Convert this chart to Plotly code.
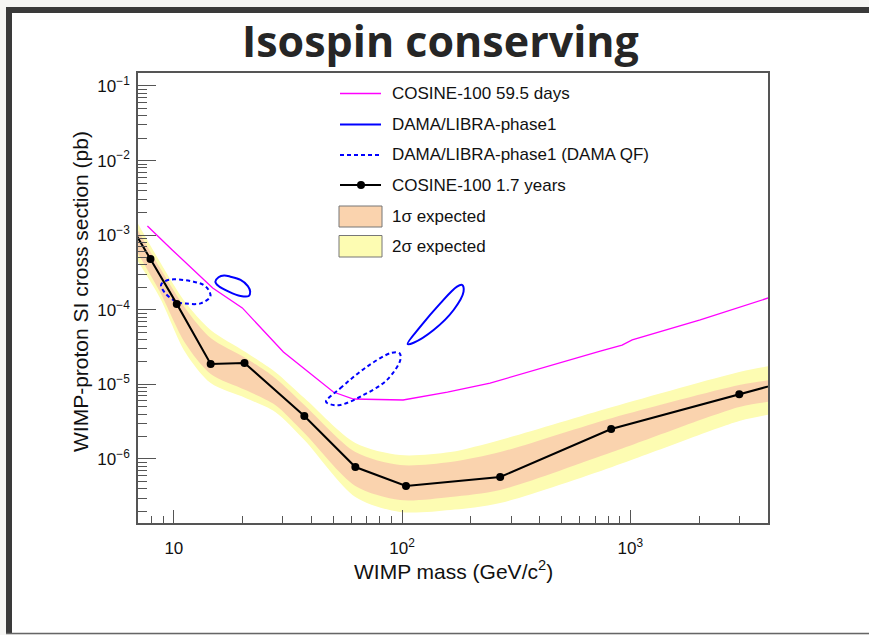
import plotly.graph_objects as go

# ---------------- data ----------------
# COSINE-100 1.7 years (observed limit)
cos17_mass = [6.0, 7.9, 10.3, 14.5, 20.4, 37.3, 62.4, 104, 269, 824, 3000, 10000]
cos17_xs = [2.0e-3, 4.8e-4, 1.2e-4, 1.88e-5, 1.94e-5, 3.77e-6, 7.8e-7, 4.35e-7, 5.74e-7, 2.52e-6, 7.4e-6, 2.0e-5]

# COSINE-100 59.5 days
cos59_mass = [7.66, 9.84, 14.8, 19.95, 30.2, 50.0, 61.2, 101, 158, 243, 738, 920, 1019, 2023, 4018]
cos59_xs = [1.33e-3, 6.34e-4, 1.96e-4, 1.06e-4, 2.72e-5, 7.9e-6, 6.37e-6, 6.18e-6, 7.9e-6, 1.04e-5,
            2.8e-5, 3.37e-5, 3.94e-5, 7.3e-5, 1.44e-4]

# expected sensitivity bands
band_mass = [6.0, 6.9, 8.7, 11.2, 14.5, 20.6, 27.8, 37.3, 62.4, 98, 163, 269, 833, 3000, 4100, 6000]
s2_hi = [3.2e-3, 1.50e-3, 4.37e-4, 1.27e-4, 5.36e-5, 2.72e-5, 1.47e-5, 6.58e-6, 1.64e-6, 1.13e-6, 1.24e-6, 1.80e-6, 4.98e-6, 1.47e-5, 1.77e-5, 2.3e-5]
s1_hi = [2.5e-3, 1.21e-3, 3.63e-4, 1.06e-4, 4.19e-5, 2.26e-5, 1.22e-5, 5.30e-6, 1.24e-6, 8.31e-7, 9.12e-7, 1.24e-6, 3.55e-6, 9.82e-6, 1.15e-5, 1.45e-5]
s1_lo = [1.26e-3, 5.96e-4, 1.73e-4, 3.59e-5, 1.38e-5, 8.41e-6, 5.30e-6, 2.23e-6, 4.35e-7, 2.82e-7, 3.10e-7, 3.84e-7, 1.24e-6, 4.98e-6, 5.9e-6, 7.4e-6]
s2_lo = [9.5e-4, 4.65e-4, 1.44e-4, 2.72e-5, 1.04e-5, 6.58e-6, 4.27e-6, 1.80e-6, 3.10e-7, 1.95e-7, 2.07e-7, 2.57e-7, 7.82e-7, 3.22e-6, 3.98e-6, 5.2e-6]

# DAMA/LIBRA-phase1 contours
dama_a_mass = [15.2, 15.7, 16.6, 17.7, 19.6, 21.1, 21.6, 21.3, 19.6, 17.4, 15.7, 15.2]
dama_a_xs = [2.38e-4, 2.73e-4, 2.88e-4, 2.78e-4, 2.51e-4, 2.08e-4, 1.75e-4, 1.53e-4, 1.53e-4, 1.75e-4, 2.08e-4, 2.38e-4]
dama_b_mass = [105.7, 120.2, 147.0, 174.0, 183.0, 185.9, 168.1, 137.4, 112.3, 105.7]
dama_b_xs = [3.48e-5, 5.93e-5, 1.22e-4, 2.04e-4, 2.15e-4, 1.75e-4, 9.94e-5, 5.36e-5, 3.62e-5, 3.48e-5]
# DAMA/LIBRA-phase1 (DAMA QF)
damaqf_a_mass = [8.79, 9.18, 9.98, 12.2, 13.5, 14.2, 14.45, 13.1, 11.3, 10.3, 9.18, 8.79]
damaqf_a_xs = [2.15e-4, 2.43e-4, 2.56e-4, 2.38e-4, 2.15e-4, 1.84e-4, 1.50e-4, 1.22e-4, 1.21e-4, 1.28e-4, 1.66e-4, 2.15e-4]
damaqf_b_mass = [46.4, 53.6, 70.2, 90.3, 97.5, 98.2, 85.9, 67.8, 53.6, 48.5, 46.4]
damaqf_b_xs = [5.86e-6, 8.87e-6, 1.73e-5, 2.66e-5, 2.61e-5, 2.12e-5, 1.15e-5, 7.21e-6, 5.30e-6, 5.41e-6, 5.86e-6]

x_tickvals = [10, 100, 1000]
x_ticktext = ["10", "10<sup>2</sup>", "10<sup>3</sup>"]
y_tickvals = [1e-6, 1e-5, 1e-4, 1e-3, 1e-2, 1e-1]
y_ticktext = ["10<sup>\u22126</sup>", "10<sup>\u22125</sup>", "10<sup>\u22124</sup>",
              "10<sup>\u22123</sup>", "10<sup>\u22122</sup>", "10<sup>\u22121</sup>"]

legend_labels = ["COSINE-100 59.5 days", "DAMA/LIBRA-phase1", "DAMA/LIBRA-phase1 (DAMA QF)",
                 "COSINE-100 1.7 years", "1\u03c3 expected", "2\u03c3 expected"]

title_text = "Isospin conserving"
xtitle = "WIMP mass (GeV/c<sup>2</sup>)"
ytitle = "WIMP-proton SI cross section (pb)"

# ---------------- styles ----------------
W, H = 869, 635
L, R, T, B = 138, 768, 73, 523
C_MAG = "#ff00ff"
C_BLUE = "#0000ff"
C_1S = "#fad3ae"
C_2S = "#fdfcb2"
FONT = "Liberation Sans, Arial, sans-serif"

# minor tick positions (2..9 per decade)
x_minor = [k * 10 ** d for d in range(0, 4) for k in range(2, 10)]
y_minor = [k * 10.0 ** d for d in range(-7, 0) for k in range(2, 10)]


def px(x):
    return (x - L) / (R - L)


def py(y):
    return (B - y) / (B - T)


fig = go.Figure()

# bands
fig.add_trace(go.Scatter(x=band_mass + band_mass[::-1], y=s2_hi + s2_lo[::-1], fill="toself",
                         fillcolor=C_2S, line=dict(width=0, shape="spline", smoothing=0.8),
                         mode="lines", hoverinfo="skip", showlegend=False))
fig.add_trace(go.Scatter(x=band_mass + band_mass[::-1], y=s1_hi + s1_lo[::-1], fill="toself",
                         fillcolor=C_1S, line=dict(width=0, shape="spline", smoothing=0.8),
                         mode="lines", hoverinfo="skip", showlegend=False))

# COSINE 59.5 days
fig.add_trace(go.Scatter(x=cos59_mass, y=cos59_xs, mode="lines",
                         line=dict(color=C_MAG, width=1.3), showlegend=False))

# DAMA contours
for mx, sy, dash in [(dama_a_mass, dama_a_xs, "solid"), (dama_b_mass, dama_b_xs, "solid"),
                     (damaqf_a_mass, damaqf_a_xs, "4px,3px"), (damaqf_b_mass, damaqf_b_xs, "4px,3px")]:
    fig.add_trace(go.Scatter(x=mx, y=sy, mode="lines",
                             line=dict(color=C_BLUE, width=2, dash=dash, shape="spline", smoothing=1.0),
                             showlegend=False))

# COSINE 1.7 years
fig.add_trace(go.Scatter(x=cos17_mass, y=cos17_xs, mode="lines+markers",
                         line=dict(color="black", width=2),
                         marker=dict(color="black", size=8), showlegend=False))

shapes = []
annotations = []

# slide frame
shapes.append(dict(type="rect", xref="paper", yref="paper", x0=px(6), x1=px(880), y0=py(634), y1=py(7),
                   fillcolor="white", line=dict(width=0), layer="below"))
shapes.append(dict(type="rect", xref="paper", yref="paper", x0=px(6), x1=px(12), y0=py(634), y1=py(7),
                   fillcolor="#3a3a3a", line=dict(width=0), layer="below"))
shapes.append(dict(type="rect", xref="paper", yref="paper", x0=px(6), x1=px(880), y0=py(13), y1=py(7),
                   fillcolor="#3a3a3a", line=dict(width=0), layer="below"))
shapes.append(dict(type="line", xref="paper", yref="paper", x0=px(6), x1=px(880), y0=py(633.5), y1=py(633.5),
                   line=dict(color="#666", width=1.5), layer="below"))

# manual legend
lx0, lx1, tx = 340, 381, 390
rows = [93.5, 124.5, 155, 185, 216.5, 246.5]
shapes.append(dict(type="line", xref="paper", yref="paper", x0=px(lx0), x1=px(lx1), y0=py(rows[0]), y1=py(rows[0]),
                   line=dict(color=C_MAG, width=1.3)))
shapes.append(dict(type="line", xref="paper", yref="paper", x0=px(lx0), x1=px(lx1), y0=py(rows[1]), y1=py(rows[1]),
                   line=dict(color=C_BLUE, width=2)))
shapes.append(dict(type="line", xref="paper", yref="paper", x0=px(lx0), x1=px(lx1), y0=py(rows[2]), y1=py(rows[2]),
                   line=dict(color=C_BLUE, width=2, dash="4px,3px")))
shapes.append(dict(type="line", xref="paper", yref="paper", x0=px(lx0), x1=px(lx1), y0=py(rows[3]), y1=py(rows[3]),
                   line=dict(color="black", width=2)))
shapes.append(dict(type="circle", xref="paper", yref="paper", x0=px(357), x1=px(365), y0=py(rows[3] + 4),
                   y1=py(rows[3] - 4), fillcolor="black", line=dict(width=0)))
shapes.append(dict(type="rect", xref="paper", yref="paper", x0=px(339), x1=px(382), y0=py(227), y1=py(206),
                   fillcolor=C_1S, line=dict(color="#777", width=1)))
shapes.append(dict(type="rect", xref="paper", yref="paper", x0=px(339), x1=px(382), y0=py(257), y1=py(235.5),
                   fillcolor=C_2S, line=dict(color="#777", width=1)))
for lab, yy in zip(legend_labels, rows):
    annotations.append(dict(x=px(tx), y=py(yy), xref="paper", yref="paper", text=lab, showarrow=False,
                            xanchor="left", yanchor="middle", font=dict(family=FONT, size=17, color="#111")))

# titles
annotations.append(dict(x=px(440), y=py(40), xref="paper", yref="paper", text="<b>" + title_text + "</b>",
                        showarrow=False, xanchor="center", yanchor="middle",
                        font=dict(family="Open Sans, sans-serif", size=43, color="#262626")))
annotations.append(dict(x=px(453), y=py(570), xref="paper", yref="paper", text=xtitle,
                        showarrow=False, xanchor="center", yanchor="middle",
                        font=dict(family=FONT, size=21, color="#111")))
annotations.append(dict(x=px(80), y=py(292), xref="paper", yref="paper", text=ytitle, textangle=-90,
                        showarrow=False, xanchor="center", yanchor="middle",
                        font=dict(family=FONT, size=21, color="#111")))

fig.update_layout(
    width=W, height=H,
    margin=dict(l=L, r=W - R, t=T, b=H - B, pad=0),
    paper_bgcolor="#f6f6f4", plot_bgcolor="rgba(0,0,0,0)",
    shapes=shapes, annotations=annotations, showlegend=False,
)
fig.update_xaxes(type="log", range=[0.843, 3.603], showgrid=False, zeroline=False,
                 showline=True, mirror=True, linecolor="#555", linewidth=1.5,
                 ticks="inside", ticklen=13, tickwidth=1.3, tickcolor="#555",
                 tickmode="array", tickvals=x_tickvals, ticktext=x_ticktext, ticklabelstandoff=9,
                 tickfont=dict(family=FONT, size=17, color="#111"),
                 minor=dict(ticks="inside", ticklen=7, tickwidth=1.2, tickcolor="#555", showgrid=False,
                            tickmode="array", tickvals=x_minor))
fig.update_yaxes(type="log", range=[-6.858, -0.826], showgrid=False, zeroline=False,
                 showline=True, mirror=True, linecolor="#555", linewidth=1.5,
                 ticks="inside", ticklen=18, tickwidth=1.3, tickcolor="#555",
                 tickmode="array", tickvals=y_tickvals, ticktext=y_ticktext, ticklabelstandoff=3,
                 tickfont=dict(family=FONT, size=17, color="#111"),
                 minor=dict(ticks="inside", ticklen=9, tickwidth=1.2, tickcolor="#555", showgrid=False,
                            tickmode="array", tickvals=y_minor))

fig.write_html("out.html")
